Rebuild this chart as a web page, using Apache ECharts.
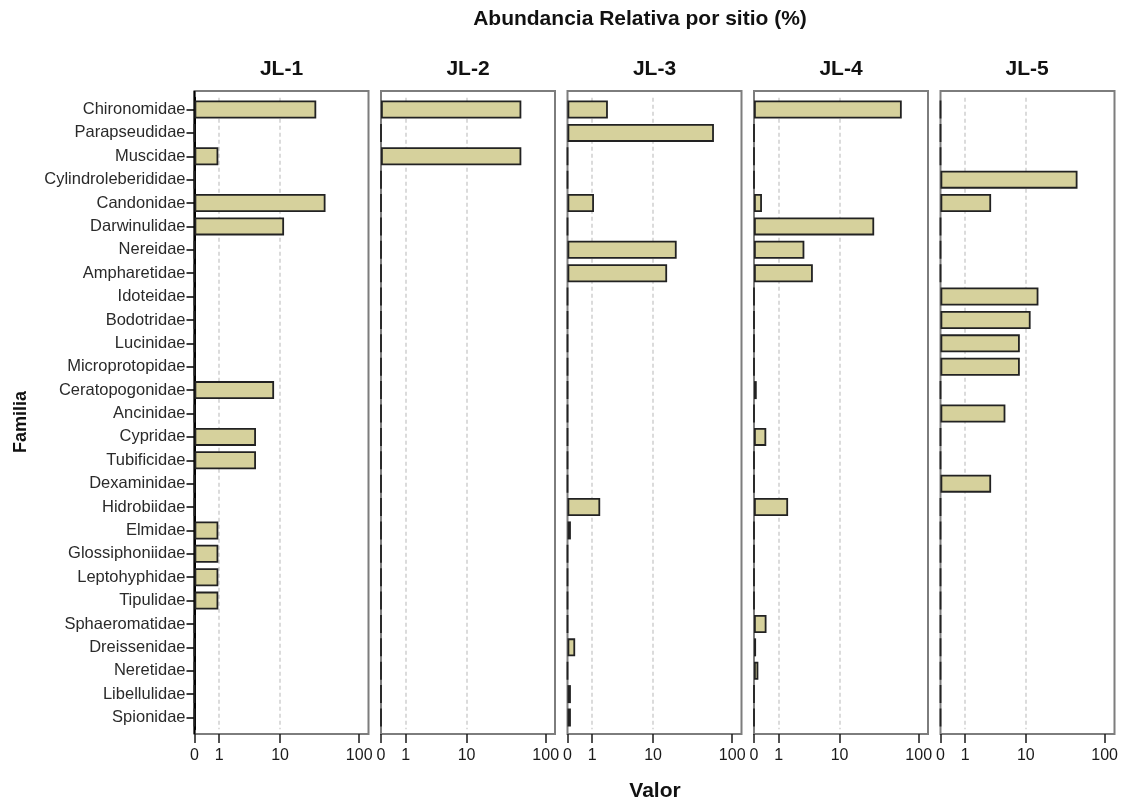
<!DOCTYPE html>
<html>
<head>
<meta charset="utf-8">
<style>
  html, body { margin: 0; padding: 0; background: #ffffff; }
  #chart { width: 1121px; height: 802px; }
</style>
<script src="https://cdn.jsdelivr.net/npm/echarts@6/dist/echarts.min.js"></script>
</head>
<body>
<div id="chart"></div>
<script>
// Families, top to bottom
const families = [
  'Chironomidae', 'Parapseudidae', 'Muscidae', 'Cylindroleberididae', 'Candonidae',
  'Darwinulidae', 'Nereidae', 'Ampharetidae', 'Idoteidae', 'Bodotridae',
  'Lucinidae', 'Microprotopidae', 'Ceratopogonidae', 'Ancinidae', 'Cypridae',
  'Tubificidae', 'Dexaminidae', 'Hidrobiidae', 'Elmidae', 'Glossiphoniidae',
  'Leptohyphidae', 'Tipulidae', 'Sphaeromatidae', 'Dreissenidae', 'Neretidae',
  'Libellulidae', 'Spionidae'
];

const sites = ['JL-1', 'JL-2', 'JL-3', 'JL-4', 'JL-5'];

// Relative abundance (%) per site, same order as families
const jl1 = [29.3, 0, 0.95, 0, 38.3, 11.3, 0, 0, 0, 0, 0, 0, 8.3, 0, 4.6, 4.6, 0, 0, 0.95, 0.95, 0.95, 0.95, 0, 0, 0, 0, 0];
const jl2 = [50, 0, 50, 0, 0, 0, 0, 0, 0, 0, 0, 0, 0, 0, 0, 0, 0, 0, 0, 0, 0, 0, 0, 0, 0, 0, 0];
const jl3 = [2.1, 59.5, 0, 0, 1.1, 0, 20.3, 15.3, 0, 0, 0, 0, 0, 0, 0, 0, 0, 1.5, 0.1, 0, 0, 0, 0, 0.24, 0, 0.1, 0.1];
const jl4 = [61.8, 0, 0, 0, 0.25, 28, 3.1, 4.2, 0, 0, 0, 0, 0.08, 0, 0.41, 0, 0, 1.6, 0, 0, 0, 0, 0.42, 0.06, 0.13, 0, 0];
const jl5 = [0, 0, 0, 46.1, 3.15, 0, 0, 0, 14.7, 11.6, 8.3, 8.3, 0, 5.2, 0, 0, 3.15, 0, 0, 0, 0, 0, 0, 0, 0, 0, 0];

const siteValues = [jl1, jl2, jl3, jl4, jl5];

// Value-axis tick labels and grid lines
const tickLabels = [0, 1, 10, 100];
const gridLineValues = [1, 10];
const axisTop = 130;

// Safe-log scale: log10(v + 1)
const toAxis = v => Math.log10(v + 1);
const fromAxis = x => Math.pow(10, x) - 1;

// Panel layout
const PANEL_LEFT = [194.5, 381, 567.5, 754, 940.5];
const PANEL_W = 174;
const FRAME_TOP = 91;
const FRAME_BOTTOM = 734;
const BAND_TOP = 97.8;
const BAND_H = 631.4;

const FONT = 'Liberation Sans, Arial, sans-serif';
const tickAxisValues = tickLabels.map(toAxis);

const grids = [], xAxes = [], topAxes = [], yAxes = [], series = [], graphics = [];

sites.forEach((site, i) => {
  grids.push({ left: PANEL_LEFT[i], top: BAND_TOP, width: PANEL_W, height: BAND_H, containLabel: false });

  xAxes.push({
    gridIndex: i,
    type: 'value',
    min: 0,
    max: toAxis(axisTop),
    position: 'bottom',
    offset: FRAME_BOTTOM - (BAND_TOP + BAND_H),
    axisLine: { show: false },
    splitLine: { show: false },
    axisTick: {
      show: true,
      customValues: tickAxisValues,
      length: 9,
      lineStyle: { color: '#1a1a1a', width: 1.5 }
    },
    axisLabel: {
      customValues: tickAxisValues,
      formatter: v => String(Math.round(fromAxis(v))),
      fontSize: 16,
      color: '#1a1a1a',
      margin: 14,
      fontFamily: FONT
    }
  });

  topAxes.push({
    gridIndex: i,
    type: 'value',
    min: 0,
    max: toAxis(axisTop),
    position: 'top',
    offset: BAND_TOP - FRAME_TOP,
    axisLine: { show: false },
    axisTick: { show: false },
    axisLabel: { show: false },
    splitLine: { show: false },
    name: site,
    nameLocation: 'middle',
    nameGap: 11,
    nameTextStyle: { fontSize: 21, fontWeight: 'bold', color: '#111', fontFamily: FONT }
  });

  const first = i === 0;
  yAxes.push({
    gridIndex: i,
    type: 'category',
    inverse: true,
    data: families,
    axisLine: { show: first, lineStyle: { color: '#000', width: 2 } },
    axisTick: { show: first, alignWithLabel: true, length: 8, lineStyle: { color: '#000', width: 1.5 } },
    axisLabel: { show: first, fontSize: 16.5, color: '#2a2a2a', margin: 9, fontFamily: FONT },
    splitLine: { show: false }
  });

  series.push({
    type: 'bar',
    name: site,
    xAxisIndex: i,
    yAxisIndex: i,
    barWidth: 18,
    z: 3,
    data: siteValues[i].map(toAxis),
    itemStyle: { color: '#d6d19c', borderColor: '#222222', borderWidth: 1.8 },
    markLine: {
      silent: true,
      symbol: 'none',
      z: 1,
      label: { show: false },
      lineStyle: { color: '#cfcfcf', type: [4, 3], width: 1.5 },
      data: gridLineValues.map(v => ({ xAxis: toAxis(v) }))
    }
  });

  // panel frame
  graphics.push({
    type: 'rect',
    z: 0,
    silent: true,
    shape: { x: PANEL_LEFT[i], y: FRAME_TOP, width: PANEL_W, height: FRAME_BOTTOM - FRAME_TOP },
    style: { fill: 'none', stroke: '#7d7d7d', lineWidth: 2 }
  });
});

// dark left edge on the first panel
graphics.push({
  type: 'line',
  z: 1,
  silent: true,
  shape: { x1: PANEL_LEFT[0], y1: FRAME_TOP, x2: PANEL_LEFT[0], y2: FRAME_BOTTOM },
  style: { stroke: '#000', lineWidth: 2 }
});

// titles
graphics.push({
  type: 'text',
  x: 640,
  y: 19,
  silent: true,
  style: {
    text: 'Abundancia Relativa por sitio (%)',
    fontSize: 21,
    fontWeight: 'bold',
    fontFamily: FONT,
    fill: '#111',
    align: 'center',
    verticalAlign: 'middle'
  }
});

graphics.push({
  type: 'text',
  x: 655,
  y: 791,
  silent: true,
  style: {
    text: 'Valor',
    fontSize: 21,
    fontWeight: 'bold',
    fontFamily: FONT,
    fill: '#111',
    align: 'center',
    verticalAlign: 'middle'
  }
});

graphics.push({
  type: 'text',
  x: 21,
  y: 422,
  rotation: Math.PI / 2,
  silent: true,
  style: {
    text: 'Familia',
    fontSize: 18,
    fontWeight: 'bold',
    fontFamily: FONT,
    fill: '#111',
    align: 'center',
    verticalAlign: 'middle'
  }
});

const chart = echarts.init(document.getElementById('chart'), null, { renderer: 'canvas' });
chart.setOption({
  animation: false,
  backgroundColor: '#ffffff',
  textStyle: { fontFamily: FONT },
  grid: grids,
  xAxis: xAxes.concat(topAxes),
  yAxis: yAxes,
  series: series,
  graphic: graphics
});
</script>
</body>
</html>
